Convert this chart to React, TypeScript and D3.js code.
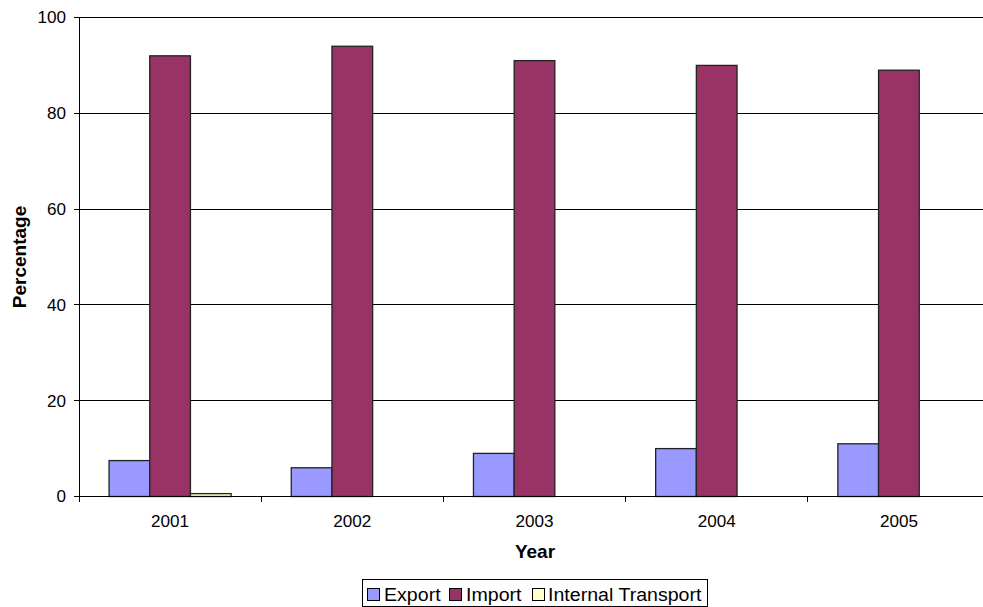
import React from "react";
import * as d3 from "d3";

// Share of freight by direction, per year (percent)
const years = ["2001", "2002", "2003", "2004", "2005"];
const exportShare = [7.5, 6, 9, 10, 11];
const importShare = [92, 94, 91, 90, 89];
const internalShare = [0.6, 0, 0, 0, 0];
const yTicks = [0, 20, 40, 60, 80, 100];

const seriesNames = ["Export", "Import", "Internal Transport"];
const seriesColors = ["#9999FF", "#993366", "#FFFFCC"];
const seriesValues = [exportShare, importShare, internalShare];

const W = 983;
const H = 607;
const plot = { left: 79, top: 17.5, right: 990, bottom: 496.5 };
const font = "'Liberation Sans', Arial, sans-serif";

// Text drawn slightly wide, as in the original export
function WideText(props: {
  x: number;
  y: number;
  size: number;
  sx?: number;
  anchor?: "start" | "middle" | "end";
  bold?: boolean;
  children: React.ReactNode;
}) {
  const { x, y, size, sx = 1.12, anchor = "start", bold, children } = props;
  return (
    <text
      transform={`translate(${x},${y}) scale(${sx},1)`}
      textAnchor={anchor}
      fontFamily={font}
      fontSize={size}
      fontWeight={bold ? "bold" : "normal"}
      fill="#000"
    >
      {children}
    </text>
  );
}

export default function App() {
  const x = d3.scaleBand<string>().domain(years).range([plot.left, plot.right]);
  const y = d3.scaleLinear().domain([0, 100]).range([plot.bottom, plot.top]);

  // the three bars of a year fill two thirds of its band
  const groupW = x.bandwidth() * 0.67;
  const inner = d3
    .scaleBand<string>()
    .domain(seriesNames)
    .range([(x.bandwidth() - groupW) / 2, (x.bandwidth() + groupW) / 2]);

  const legendItems = [
    { name: "Export", sw: 367, tx: 384 },
    { name: "Import", sw: 449, tx: 466 },
    { name: "Internal Transport", sw: 532, tx: 548 },
  ];

  return (
    <svg width={W} height={H} style={{ position: "absolute", left: 0, top: 0, background: "#fff" }}>
      {/* gridlines */}
      {yTicks.map((t) => (
        <line
          key={"g" + t}
          x1={plot.left}
          x2={plot.right}
          y1={y(t)}
          y2={y(t)}
          stroke="#000"
          strokeWidth={1}
          shapeRendering="crispEdges"
        />
      ))}
      {/* bars */}
      {years.map((yr, i) =>
        seriesValues.map((vals, s) => {
          const v = vals[i];
          if (v <= 0) return null;
          const bx = (x(yr) as number) + (inner(seriesNames[s]) as number);
          return (
            <rect
              key={yr + s}
              x={bx}
              y={y(v)}
              width={inner.bandwidth()}
              height={y(0) - y(v)}
              fill={seriesColors[s]}
              stroke="#222"
              strokeWidth={1.3}
            />
          );
        })
      )}
      {/* y axis */}
      <line x1={plot.left} x2={plot.left} y1={plot.top} y2={plot.bottom} stroke="#000" shapeRendering="crispEdges" />
      {yTicks.map((t) => (
        <g key={"yt" + t}>
          <line x1={plot.left - 5} x2={plot.left} y1={y(t)} y2={y(t)} stroke="#000" shapeRendering="crispEdges" />
          <WideText x={plot.left - 13} y={y(t) + 5.8} size={16} anchor="end" sx={1.07}>
            {t}
          </WideText>
        </g>
      ))}
      {/* x axis */}
      <line x1={plot.left} x2={plot.right} y1={y(0)} y2={y(0)} stroke="#000" shapeRendering="crispEdges" />
      {years.map((yr) => (
        <line
          key={"xt" + yr}
          x1={x(yr) as number}
          x2={x(yr) as number}
          y1={y(0)}
          y2={y(0) + 5}
          stroke="#000"
          shapeRendering="crispEdges"
        />
      ))}
      {years.map((yr) => (
        <WideText key={"xl" + yr} x={(x(yr) as number) + x.bandwidth() / 2} y={527} size={16} anchor="middle" sx={1.07}>
          {yr}
        </WideText>
      ))}
      {/* axis titles */}
      <text x={535} y={558} textAnchor="middle" fontFamily={font} fontSize={19} fontWeight="bold" fill="#000">
        Year
      </text>
      <text
        transform={`translate(26,257) rotate(-90)`}
        textAnchor="middle"
        fontFamily={font}
        fontSize={19}
        fontWeight="bold"
        fill="#000"
      >
        Percentage
      </text>
      {/* legend */}
      <rect x={362.5} y={579.5} width={345} height={27} fill="#fff" stroke="#000" strokeWidth={1} shapeRendering="crispEdges" />
      {legendItems.map((it, s) => (
        <g key={it.name}>
          <rect x={it.sw + 0.5} y={588.5} width={12} height={12} fill={seriesColors[s]} stroke="#000" strokeWidth={1} shapeRendering="crispEdges" />
          <WideText x={it.tx} y={601} size={17.5} sx={1.12}>
            {it.name}
          </WideText>
        </g>
      ))}
    </svg>
  );
}
